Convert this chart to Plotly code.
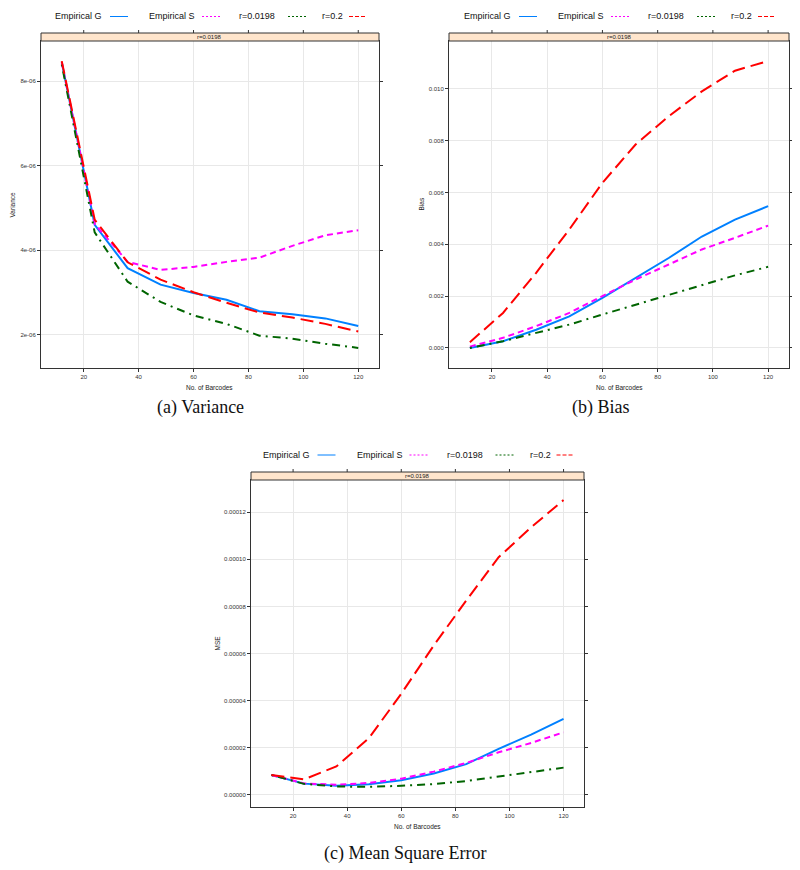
import plotly.graph_objects as go

# ---------------- data ----------------
barcodes = [12, 24, 36, 48, 60, 72, 84, 96, 108, 120]
series_names = ["Empirical G", "Empirical S", "r=0.0198", "r=0.2"]

var_emp_g = [8.45e-6, 4.60e-6, 3.57e-6, 3.18e-6, 2.98e-6, 2.82e-6, 2.55e-6, 2.48e-6, 2.38e-6, 2.20e-6]
var_emp_s = [8.45e-6, 4.62e-6, 3.72e-6, 3.53e-6, 3.60e-6, 3.72e-6, 3.82e-6, 4.10e-6, 4.35e-6, 4.47e-6]
var_r0198 = [8.40e-6, 4.42e-6, 3.25e-6, 2.77e-6, 2.45e-6, 2.25e-6, 1.97e-6, 1.90e-6, 1.78e-6, 1.68e-6]
var_r02 = [8.48e-6, 4.72e-6, 3.71e-6, 3.30e-6, 3.00e-6, 2.75e-6, 2.52e-6, 2.40e-6, 2.25e-6, 2.07e-6]

bias_emp_g = [0.0000, 0.00026, 0.00070, 0.00122, 0.00193, 0.00270, 0.00347, 0.00430, 0.00495, 0.00547]
bias_emp_s = [0.00005, 0.00039, 0.00084, 0.00135, 0.00200, 0.00264, 0.00322, 0.00380, 0.00425, 0.00472]
bias_r0198 = [0.0000, 0.00026, 0.00058, 0.00090, 0.00129, 0.00167, 0.00206, 0.00245, 0.00280, 0.00313]
bias_r02 = [0.00022, 0.00135, 0.00290, 0.00457, 0.00637, 0.00785, 0.00894, 0.00990, 0.01070, 0.01107]

mse_emp_g = [0.84e-5, 0.47e-5, 0.38e-5, 0.44e-5, 0.61e-5, 0.90e-5, 1.30e-5, 1.95e-5, 2.55e-5, 3.22e-5]
mse_emp_s = [0.84e-5, 0.48e-5, 0.42e-5, 0.50e-5, 0.68e-5, 0.98e-5, 1.35e-5, 1.80e-5, 2.20e-5, 2.65e-5]
mse_r0198 = [0.84e-5, 0.46e-5, 0.35e-5, 0.33e-5, 0.38e-5, 0.45e-5, 0.58e-5, 0.76e-5, 0.95e-5, 1.15e-5]
mse_r02 = [0.84e-5, 0.65e-5, 1.20e-5, 2.40e-5, 4.29e-5, 6.34e-5, 8.25e-5, 10.09e-5, 11.36e-5, 12.52e-5]

x_ticks = [20, 40, 60, 80, 100, 120]
var_ticks = [2e-6, 4e-6, 6e-6, 8e-6]
var_tick_text = ["2e-06", "4e-06", "6e-06", "8e-06"]
bias_ticks = [0.0, 0.002, 0.004, 0.006, 0.008, 0.010]
bias_tick_text = ["0.000", "0.002", "0.004", "0.006", "0.008", "0.010"]
mse_ticks = [0.0, 2e-5, 4e-5, 6e-5, 8e-5, 10e-5, 12e-5]
mse_tick_text = ["0.00000", "0.00002", "0.00004", "0.00006", "0.00008", "0.00010", "0.00012"]

strip_label = "r=0.0198"
x_title = "No. of Barcodes"

# ---------------- styles ----------------
OFF = 8  # default body margin of the html page
W, H = 800 - OFF, 870 - OFF
colors = ["#0080ff", "#ff00ff", "#006400", "#ff0000"]
dashes = ["solid", "6px,4px", "2px,5px,8px,5px", "13px,6px"]
legend_dashes = ["solid", "2px,2px", "2px,2px", "4px,2px"]
SANS = "Liberation Sans, Arial, sans-serif"
SERIF = "Liberation Serif, Times New Roman, serif"


def px(x):
    return (x - OFF) / W


def py(y):
    return 1 - (y - OFF) / H


panels = [
    dict(ax="", left=41, right=379, top=41, bottom=368, strip=33,
         data=[var_emp_g, var_emp_s, var_r0198, var_r02],
         ticks=var_ticks, ticktext=var_tick_text, ytitle="Variance",
         ytitle_x=12, xtitle_y=387, legend_y=16.5,
         caption="(a) Variance", cap_x=200, cap_y=407),
    dict(ax="2", left=449, right=789, top=41, bottom=368, strip=33,
         data=[bias_emp_g, bias_emp_s, bias_r0198, bias_r02],
         ticks=bias_ticks, ticktext=bias_tick_text, ytitle="Bias",
         ytitle_x=421, xtitle_y=387, legend_y=16.5,
         caption="(b) Bias", cap_x=601, cap_y=407),
    dict(ax="3", left=251, right=584, top=480, bottom=807, strip=472,
         data=[mse_emp_g, mse_emp_s, mse_r0198, mse_r02],
         ticks=mse_ticks, ticktext=mse_tick_text, ytitle="MSE",
         ytitle_x=217, xtitle_y=826, legend_y=455,
         caption="(c) Mean Square Error", cap_x=405, cap_y=853),
]

fig = go.Figure()
shapes = []
annotations = []


def padded(vals, frac=0.07):
    lo, hi = min(vals), max(vals)
    d = (hi - lo) * frac
    return [lo - d, hi + d]


xrange_ = padded(barcodes)

for p in panels:
    xa = "x" + p["ax"]
    ya = "y" + p["ax"]
    for name, vals, c, d in zip(series_names, p["data"], colors, dashes):
        fig.add_trace(go.Scatter(x=barcodes, y=vals, mode="lines", name=name,
                                 line=dict(color=c, width=2, dash=d),
                                 xaxis=xa, yaxis=ya, showlegend=False))
    allv = [v for s in p["data"] for v in s]
    axis_common = dict(showline=True, linecolor="#333333", linewidth=1,
                       ticks="outside", ticklen=3, tickwidth=1, tickcolor="#333333",
                       showgrid=True, gridcolor="#e8e8e8", gridwidth=1, zeroline=False,
                       tickfont=dict(family=SANS, size=6, color="#333333"))
    fig.update_layout(**{
        "xaxis" + p["ax"]: dict(axis_common, domain=[px(p["left"]), px(p["right"])],
                                anchor=ya, range=xrange_, tickvals=x_ticks,
                                ticktext=[str(t) for t in x_ticks], mirror=True),
        "yaxis" + p["ax"]: dict(axis_common, domain=[py(p["bottom"]), py(p["top"])],
                                anchor=xa, range=padded(allv), tickvals=p["ticks"],
                                ticktext=p["ticktext"], mirror="ticks"),
    })
    # strip
    shapes.append(dict(type="rect", xref="paper", yref="paper",
                       x0=px(p["left"]), x1=px(p["right"]),
                       y0=py(p["top"]), y1=py(p["strip"]),
                       fillcolor="#ffe5cc", line=dict(color="#333333", width=1)))
    annotations.append(dict(text=strip_label, xref="paper", yref="paper",
                            x=px((p["left"] + p["right"]) / 2), y=py((p["top"] + p["strip"]) / 2),
                            showarrow=False, xanchor="center", yanchor="middle",
                            font=dict(family=SANS, size=6, color="#222222")))
    # top ticks above strip
    for t in x_ticks:
        shapes.append(dict(type="line", xref=xa, yref="paper", x0=t, x1=t,
                           y0=py(p["strip"]), y1=py(p["strip"] - 3),
                           line=dict(color="#333333", width=1)))
    # axis titles
    annotations.append(dict(text=x_title, xref="paper", yref="paper",
                            x=px((p["left"] + p["right"]) / 2), y=py(p["xtitle_y"]),
                            showarrow=False, xanchor="center", yanchor="middle",
                            font=dict(family=SANS, size=6.5, color="#222222")))
    annotations.append(dict(text=p["ytitle"], xref="paper", yref="paper",
                            x=px(p["ytitle_x"]), y=py((p["top"] + p["bottom"]) / 2),
                            showarrow=False, xanchor="center", yanchor="middle", textangle=-90,
                            font=dict(family=SANS, size=6.5, color="#222222")))
    # caption
    annotations.append(dict(text=p["caption"], xref="paper", yref="paper",
                            x=px(p["cap_x"]), y=py(p["cap_y"]),
                            showarrow=False, xanchor="center", yanchor="middle",
                            font=dict(family=SERIF, size=18, color="#111111")))
    # legend (text followed by line key)
    start = (p["left"] + p["right"]) / 2 - 157
    text_off = [0, 94, 184, 267]
    line_off = [57, 149, 235, 296]
    for name, c, ld, to, lo in zip(series_names, colors, legend_dashes, text_off, line_off):
        annotations.append(dict(text=name, xref="paper", yref="paper",
                                x=px(start + to), y=py(p["legend_y"]),
                                showarrow=False, xanchor="left", yanchor="middle",
                                font=dict(family=SANS, size=9, color="#111111")))
        shapes.append(dict(type="line", xref="paper", yref="paper",
                           x0=px(start + lo), x1=px(start + lo + 18),
                           y0=py(p["legend_y"]), y1=py(p["legend_y"]),
                           line=dict(color=c, width=1, dash=ld)))

fig.update_layout(width=W, height=H, margin=dict(l=0, r=0, t=0, b=0),
                  paper_bgcolor="white", plot_bgcolor="white",
                  shapes=shapes, annotations=annotations, showlegend=False)

fig.write_html("out.html")
